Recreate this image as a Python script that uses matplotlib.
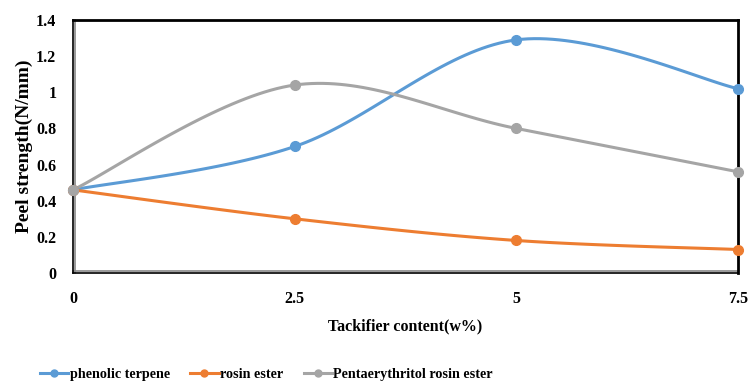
import numpy as np
import matplotlib
matplotlib.use("Agg")
import matplotlib.pyplot as plt
import matplotlib.transforms as mtrans
from matplotlib.lines import Line2D

plt.rcParams['font.family'] = ['Liberation Serif', 'DejaVu Serif']
plt.rcParams['font.weight'] = 'bold'

# data
content = [0, 2.5, 5, 7.5]
phenolic_terpene = [0.46, 0.70, 1.29, 1.02]
rosin_ester = [0.46, 0.30, 0.18, 0.13]
penta_rosin_ester = [0.46, 1.04, 0.80, 0.56]

labels = ['phenolic terpene', 'rosin ester', 'Pentaerythritol rosin ester']
colors = ['#5B9BD5', '#ED7D31', '#A5A5A5']
x_ticks = [0, 2.5, 5, 7.5]
x_ticklabels = ['0', '2.5', '5', '7.5']
y_ticks = [0, 0.2, 0.4, 0.6, 0.8, 1, 1.2, 1.4]
y_ticklabels = ['0', '0.2', '0.4', '0.6', '0.8', '1', '1.2', '1.4']


def smooth(x, y, n=40):
    # Catmull-Rom style smoothing like Excel's "smoothed line"
    x = np.asarray(x, float)
    y = np.asarray(y, float)
    px = np.concatenate([[x[0]], x, [x[-1]]])
    py = np.concatenate([[y[0]], y, [y[-1]]])
    xs, ys = [], []
    for i in range(1, len(px) - 2):
        p0 = np.array([px[i - 1], py[i - 1]])
        p1 = np.array([px[i], py[i]])
        p2 = np.array([px[i + 1], py[i + 1]])
        p3 = np.array([px[i + 2], py[i + 2]])
        c1 = p1 + (p2 - p0) / 6
        c2 = p2 - (p3 - p1) / 6
        t = np.linspace(0, 1, n)[:, None]
        b = (1 - t) ** 3 * p1 + 3 * (1 - t) ** 2 * t * c1 + 3 * (1 - t) * t ** 2 * c2 + t ** 3 * p2
        xs.append(b[:, 0])
        ys.append(b[:, 1])
    return np.concatenate(xs), np.concatenate(ys)


fig = plt.figure(figsize=(7.51, 3.83), dpi=100)
ax = fig.add_axes([0.0972, 0.2872, 0.8855, 0.6606])

handles = []
for ys, c, lab in zip([phenolic_terpene, rosin_ester, penta_rosin_ester], colors, labels):
    sx, sy = smooth(content, ys)
    ax.plot(sx, sy, color=c, lw=2.2, clip_on=False, zorder=3)
    ax.plot(content, ys, 'o', color=c, ms=7, clip_on=False, zorder=4)
    handles.append(Line2D([0], [0], color=c, lw=2.2, marker='o', ms=5))

ax.set_xlim(0, 7.5)
ax.set_ylim(0, 1.4)
ax.set_xticks(x_ticks)
ax.set_xticklabels(x_ticklabels)
ax.set_yticks(y_ticks)
ax.set_yticklabels(y_ticklabels)
ax.tick_params(length=0, labelsize=11.5)
ax.tick_params(axis='x', pad=13)
ax.tick_params(axis='y', pad=12)

for s in ax.spines.values():
    s.set_color('black')
    s.set_linewidth(2)
ax.spines['left'].set_linewidth(1.2)
ax.spines['bottom'].set_linewidth(1.2)
# gray inner lines along left and bottom (double border look)
ax.plot([0, 0], [0, 1], color='#888888', lw=1.2, zorder=2, clip_on=False,
        transform=ax.transAxes + mtrans.ScaledTranslation(2 / 100, 0, fig.dpi_scale_trans))
ax.plot([0, 1], [0, 0], color='#888888', lw=1.2, zorder=2, clip_on=False,
        transform=ax.transAxes + mtrans.ScaledTranslation(0, 2.5 / 100, fig.dpi_scale_trans))

ax.set_xlabel('Tackifier content(w%)', fontsize=11.5, fontweight='bold', labelpad=8)
ax.set_ylabel('Peel strength(N/mm)', fontsize=14, fontweight='bold', labelpad=2)

fig.legend(handles, labels, loc='center left', bbox_to_anchor=(0.053, 0.022), ncol=3,
           frameon=False, fontsize=10.2, handlelength=2.0, columnspacing=1.45,
           handletextpad=0.1, borderaxespad=0, borderpad=0)

fig.savefig('out.png', dpi=100)
